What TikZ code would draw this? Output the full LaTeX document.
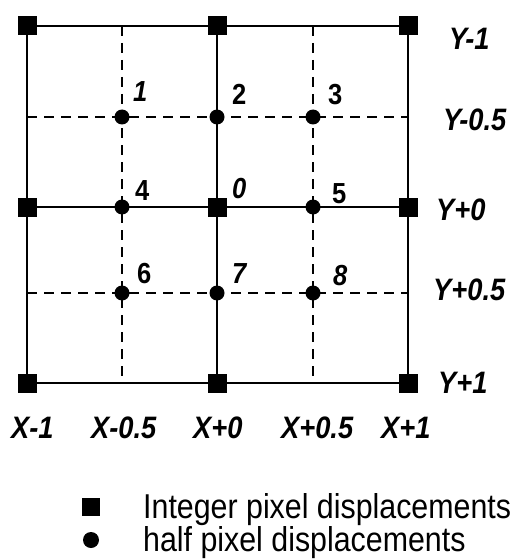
\documentclass[tikz,border=0pt]{standalone}
\usepackage{fontspec}
\setmainfont{Liberation Sans}
\newfontfamily\narrowsans[FakeStretch=0.88]{Liberation Sans}
\begin{document}
\begin{tikzpicture}[x=1pt,y=-1pt,
  solidline/.style={line width=1.8pt},
  dashline/.style={line width=1.6pt,dash pattern=on 10pt off 7pt},
  intpt/.style={fill=black,draw=none,minimum size=19pt,inner sep=0pt,rectangle},
  halfpt/.style={fill=black,draw=none,minimum size=15pt,inner sep=0pt,circle},
  numlbl/.style={anchor=base west,inner sep=0pt,font=\narrowsans\fontsize{29}{29}\selectfont\bfseries},
  axlbl/.style={anchor=base west,inner sep=0pt,font=\narrowsans\fontsize{31}{31}\selectfont\bfseries\itshape},
  legtext/.style={anchor=base west,inner sep=0pt,font=\narrowsans\fontsize{34.5}{34.5}\selectfont}]
\useasboundingbox (0,0) rectangle (519,559);
% grid coordinates
\coordinate (a0) at (27,26);  \coordinate (a1) at (122,26);  \coordinate (a2) at (217,26);  \coordinate (a3) at (313,26);  \coordinate (a4) at (408,26);
\coordinate (b0) at (27,117); \coordinate (b4) at (408,117);
\coordinate (c0) at (27,207); \coordinate (c4) at (408,207);
\coordinate (d0) at (27,293); \coordinate (d4) at (408,293);
\coordinate (e0) at (27,383); \coordinate (e1) at (122,383); \coordinate (e2) at (217,383); \coordinate (e3) at (313,383); \coordinate (e4) at (408,383);
% dashed lines
\draw[dashline] (a1) -- (e1);
\draw[dashline] (a3) -- (e3);
\draw[dashline] (b0) -- (b4);
\draw[dashline] (d0) -- (d4);
% solid lines
\draw[solidline] (a0) -- (a4) -- (e4) -- (e0) -- cycle;
\draw[solidline] (a2) -- (e2);
\draw[solidline] (c0) -- (c4);
% integer points
\node[intpt] (s1) at (a0) {};
\node[intpt] (s2) at (a2) {};
\node[intpt] (s3) at (a4) {};
\node[intpt] (s4) at (c0) {};
\node[intpt] (s0) at (217,207) {};
\node[intpt] (s5) at (c4) {};
\node[intpt] (s6) at (e0) {};
\node[intpt] (s7) at (e2) {};
\node[intpt] (s8) at (e4) {};
% half points
\node[halfpt] (p1) at (122,117) {};
\node[halfpt] (p2) at (217,117) {};
\node[halfpt] (p3) at (313,117) {};
\node[halfpt] (p4) at (122,207) {};
\node[halfpt] (p5) at (313,207) {};
\node[halfpt] (p6) at (122,293) {};
\node[halfpt] (p7) at (217,293) {};
\node[halfpt] (p8) at (313,293) {};
% number labels
\node[numlbl] (n1) at (133,102) {\itshape 1};
\node[numlbl] (n2) at (232,105) {2};
\node[numlbl] (n3) at (328,105) {3};
\node[numlbl] (n4) at (135,200) {4};
\node[numlbl] (n0) at (232,198) {\itshape 0};
\node[numlbl] (n5) at (332,203) {5};
\node[numlbl] (n6) at (137,283) {6};
\node[numlbl] (n7) at (232,283) {\itshape 7};
\node[numlbl] (n8) at (333,285) {\itshape 8};
% axis labels
\node[axlbl] (y1) at (449,50) {Y-1};
\node[axlbl] (y2) at (443,130) {Y-0.5};
\node[axlbl] (y3) at (436,220) {Y+0};
\node[axlbl] (y4) at (433,300) {Y+0.5};
\node[axlbl] (y5) at (438,393) {Y+1};
\node[axlbl] (x1) at (11,438) {X-1};
\node[axlbl] (x2) at (91,438) {X-0.5};
\node[axlbl] (x3) at (193,438) {X+0};
\node[axlbl] (x4) at (281,438) {X+0.5};
\node[axlbl] (x5) at (381,438) {X+1};
% legend
\node[intpt,minimum size=18pt] (ls) at (91,507) {};
\node[halfpt,minimum size=16pt] (lc) at (91,540) {};
\node[legtext] (lt1) at (143,518) {Integer pixel displacements};
\node[legtext] (lt2) at (143,551) {half pixel displacements};
\end{tikzpicture}
\end{document}
